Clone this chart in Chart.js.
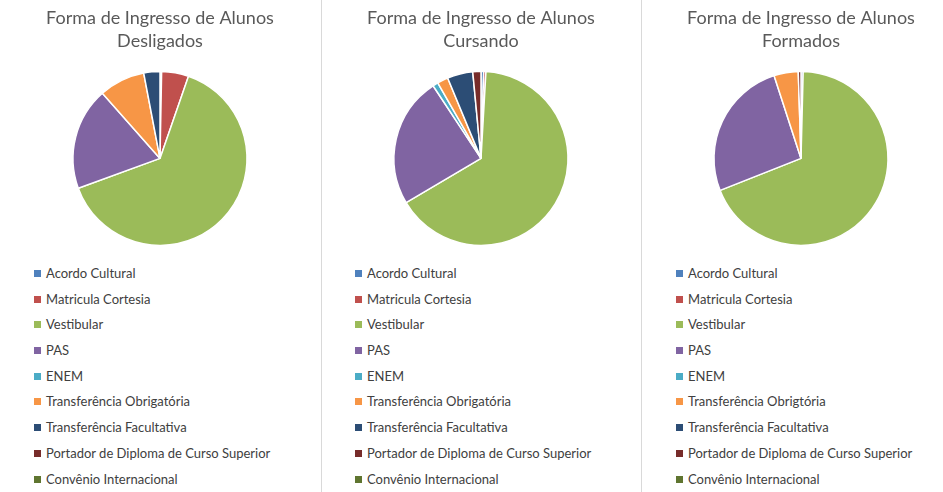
<!DOCTYPE html>
<html><head><meta charset="utf-8">
<script src="https://cdn.jsdelivr.net/npm/chart.js@4/dist/chart.umd.min.js"></script>
<style>
body{margin:0;background:#fff;font-family:Lato,"Noto Sans",sans-serif;}
.panel{position:absolute;top:0;width:320px;height:492px;}
.panel canvas{position:absolute;left:0;top:0;}
.sep{position:absolute;top:0;width:1px;height:492px;background:#d9d9d9;}
.legend{position:absolute;left:34px;top:264px;font-size:13px;color:#404040;}
.legend div{height:25.7px;line-height:18px;white-space:nowrap;}
.legend span{display:inline-block;width:7px;height:7px;margin-right:5px;vertical-align:1px;}
</style></head><body>
<div class="sep" style="left:321px"></div>
<div class="sep" style="left:641px"></div>
<script>
const titles = [
  ['Forma de Ingresso de Alunos', 'Desligados'],
  ['Forma de Ingresso de Alunos', 'Cursando'],
  ['Forma de Ingresso de Alunos', 'Formados']
];
const labels1 = ['Acordo Cultural','Matricula Cortesia','Vestibular','PAS','ENEM','Transferência Obrigatória','Transferência Facultativa','Portador de Diploma de Curso Superior','Convênio Internacional'];
const labels2 = labels1;
const labels3 = ['Acordo Cultural','Matricula Cortesia','Vestibular','PAS','ENEM','Transferência Obrigtória','Transferência Facultativa','Portador de Diploma de Curso Superior','Convênio Internacional'];
const desligados = [0.3, 5, 64, 19, 0, 8.5, 3, 0, 0];
const cursando = [0.5, 0.4, 65, 24, 1, 2, 4.7, 1.5, 0];
const formados = [0.4, 0, 68.6, 26, 0, 4.5, 0, 0.5, 0];
const colors = ['#4F81BD','#C0504D','#9BBB59','#8064A2','#4BACC6','#F79646','#2C4D75','#772C2A','#5F7530'];

const sets = [[labels1, desligados, 0], [labels2, cursando, 321], [labels3, formados, 641]];
sets.forEach(([labels, data, left], i) => {
  const panel = document.createElement('div');
  panel.className = 'panel';
  panel.style.left = left + 'px';
  const canvas = document.createElement('canvas');
  canvas.width = 320; canvas.height = 252;
  canvas.style.width = '320px'; canvas.style.height = '252px';
  panel.appendChild(canvas);
  const leg = document.createElement('div');
  leg.className = 'legend';
  leg.style.left = (i === 2 ? 35 : 34) + 'px';
  labels.forEach((l, k) => {
    const d = document.createElement('div');
    d.innerHTML = '<span style="background:' + colors[k] + '"></span>' + l;
    leg.appendChild(d);
  });
  panel.appendChild(leg);
  document.body.appendChild(panel);

  new Chart(canvas.getContext('2d'), {
    type: 'pie',
    data: {
      labels: labels,
      datasets: [{
        data: data,
        backgroundColor: colors,
        borderColor: '#ffffff',
        borderWidth: 1.5
      }]
    },
    options: {
      responsive: false,
      animation: false,
      radius: 87,
      layout: { padding: { left: 0, right: 0, bottom: 0 } },
      plugins: {
        legend: { display: false },
        tooltip: { enabled: false },
        title: {
          display: true,
          text: titles[i],
          color: '#595959',
          font: { family: 'Lato, "Noto Sans", sans-serif', size: 18, weight: 'normal', lineHeight: 1.3 },
          padding: { top: 6, bottom: 12 }
        }
      }
    }
  });
});
</script>
</body></html>
